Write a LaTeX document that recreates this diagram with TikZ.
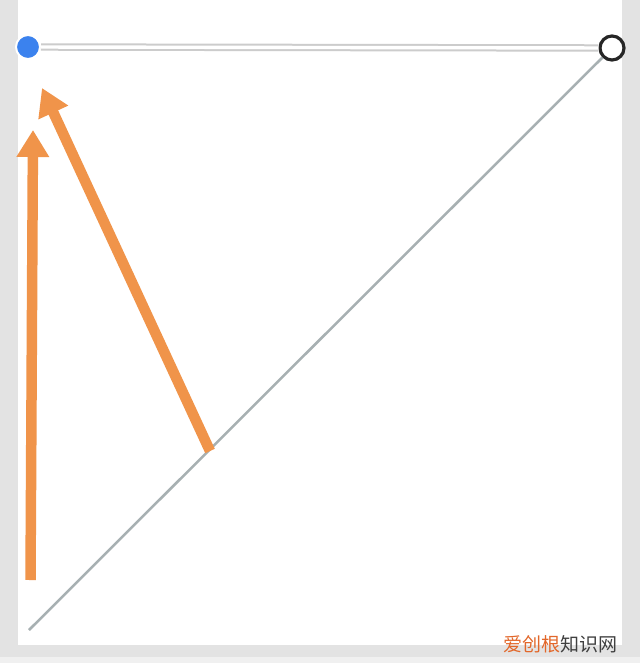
\documentclass[tikz,border=0pt]{standalone}
\usepackage{fontspec}
\newfontfamily\cjk{Noto Sans CJK SC}
\usetikzlibrary{arrows.meta}
\definecolor{pointeror}{HTML}{F0944A}
\definecolor{markor}{HTML}{E2672A}
\definecolor{dotblue}{HTML}{3B82EE}
\definecolor{framegray}{HTML}{E3E3E3}
\definecolor{diaggray}{HTML}{A7B0B2}
\tikzset{
	pointer/.style={draw=pointeror, line width=10.5pt, -{Triangle[length=27pt,width=31pt]}},
	startdot/.style={circle, fill=dotblue, draw=white, line width=2pt, minimum size=24pt, inner sep=0pt},
	enddot/.style={circle, fill=white, draw=black!85, line width=3.2pt, minimum size=24pt, inner sep=0pt}
}

\begin{document}
\begin{tikzpicture}[x=1pt,y=-1pt]
	\useasboundingbox (0,0) rectangle (640,663);
	\fill[framegray] (0,0) rectangle (640,663);
	\fill[white] (18,0) rectangle (622,645);
	\fill[black!6] (0,657) rectangle (640,663);
	\coordinate (origin) at (29,630);
	\coordinate (foot) at (210,451);
	\coordinate (base) at (30.5,580);
	\coordinate (tipa) at (33,130);
	\coordinate (tipb) at (42,88);
	\node[startdot] (start) at (28,47) {};
	\node[enddot] (end) at (612,48) {};
	\draw[draw=black!20, line width=2pt, double=white, double distance=3.4pt] (start) -- (end);
	\draw[diaggray, line width=2.5pt] (origin) -- (end);
	\draw[pointer] (base) -- (tipa);
	\draw[pointer] (foot) -- (tipb);
	\node[font=\cjk\fontsize{19}{19}\selectfont, inner sep=0pt] (mark) at (560,644) {\textcolor{markor}{爱创根}\textcolor{black!75}{知识网}};
\end{tikzpicture}
\end{document}
